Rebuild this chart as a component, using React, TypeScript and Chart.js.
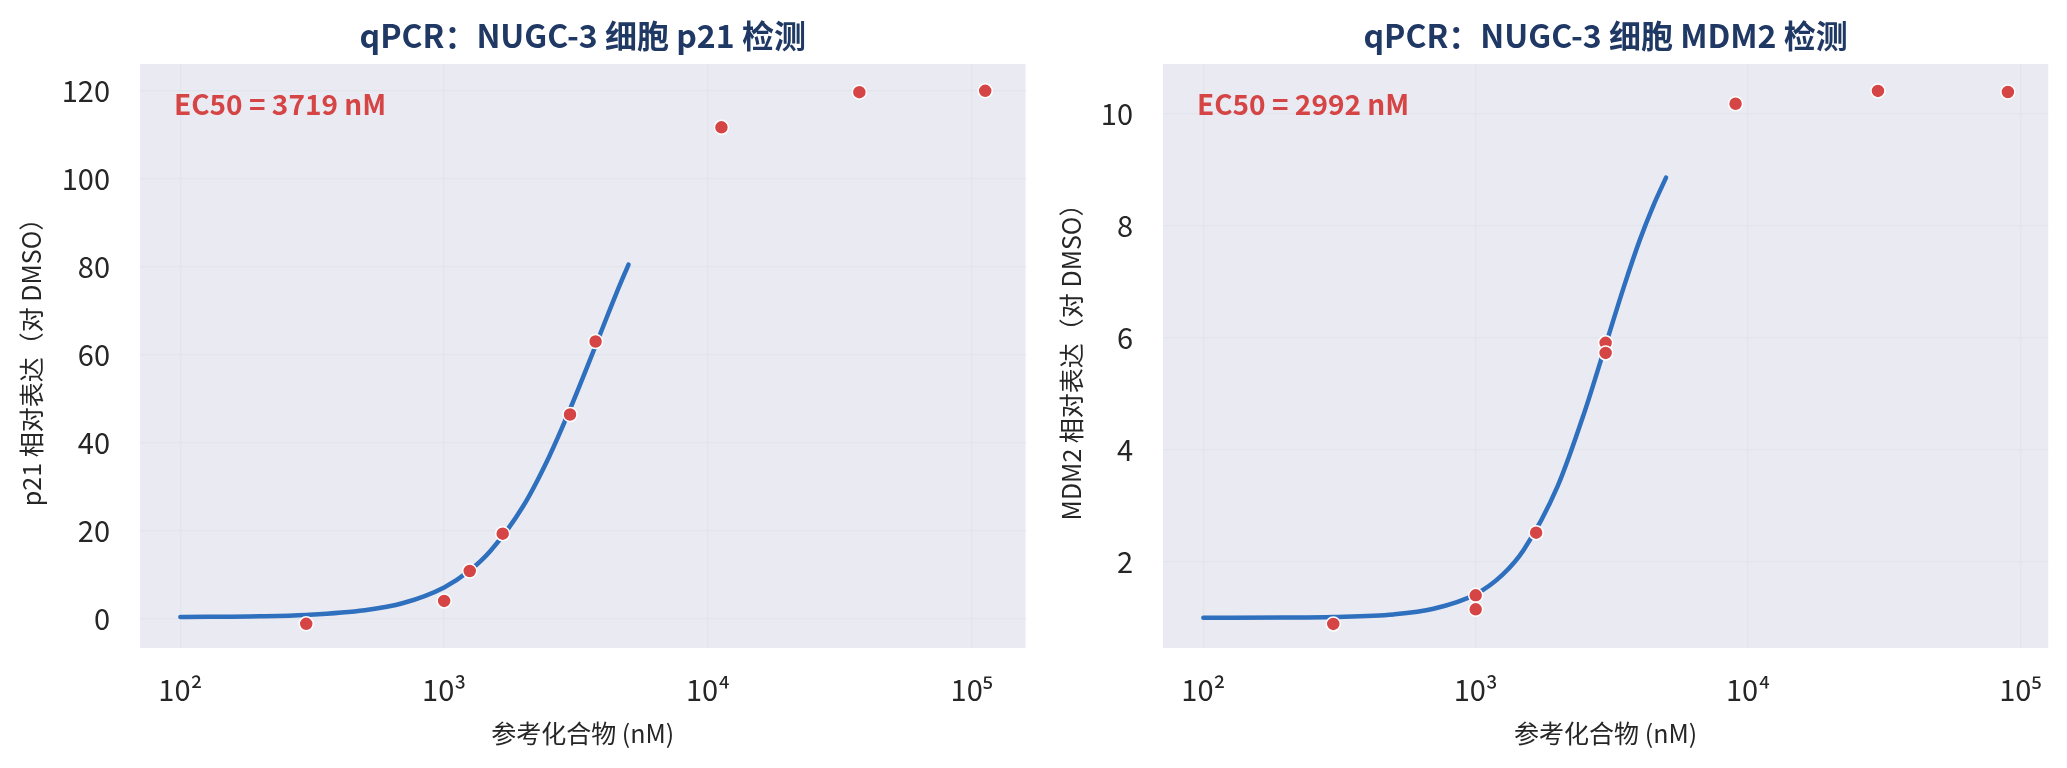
import { useEffect, useRef } from 'react'
import { Chart, registerables } from 'chart.js'
Chart.register(...registerables)

// p21 panel
const P21_DOSE = [300, 1000, 1250, 1667, 3000, 3750, 11250, 37500, 112500]
const P21_EXPR = [-1.2, 4.0, 10.8, 19.3, 46.4, 63.0, 111.7, 119.7, 120.0]
const P21_FIT_DOSE = [100, 200, 300, 500, 700, 1000, 1250, 1500, 2000, 2500, 3000, 3500, 4000, 4500, 5000]
const P21_FIT = [0.35, 0.52, 0.83, 1.88, 3.53, 7.08, 10.9, 15.4, 25.7, 36.8, 47.6, 57.5, 66.3, 74.0, 80.5]
const P21_Y_TICKS = [0, 20, 40, 60, 80, 100, 120]

// MDM2 panel
const MDM2_DOSE = [300, 1000, 1000, 1667, 3000, 3000, 9000, 30000, 90000]
const MDM2_EXPR = [0.89, 1.40, 1.15, 2.52, 5.91, 5.73, 10.18, 10.41, 10.39]
const MDM2_FIT_DOSE = [100, 200, 300, 500, 700, 1000, 1250, 1500, 2000, 2500, 3000, 3500, 4000, 4500, 5000]
const MDM2_FIT = [1.0, 1.005, 1.015, 1.06, 1.16, 1.42, 1.76, 2.21, 3.35, 4.65, 5.87, 6.91, 7.74, 8.37, 8.86]
const MDM2_Y_TICKS = [2, 4, 6, 8, 10]

const X_TICKS = [100, 1000, 10000, 100000]
const X_TICK_LABELS = ['10²', '10³', '10⁴', '10⁵']

const FONT = "'Noto Sans CJK SC', 'Noto Sans', 'DejaVu Sans', sans-serif"
const BG = '#EAEAF2', GRID = '#E3E5ED', TXT = '#262626'
const BLUE = '#2E6FBE', RED = '#D64545', NAVY = '#1F3864'

const decor = {
  id: 'decor',
  beforeDraw(chart: any) {
    const { ctx, chartArea: a } = chart
    ctx.save(); ctx.fillStyle = BG
    ctx.fillRect(a.left, a.top, a.right - a.left, a.bottom - a.top)
    ctx.restore()
  },
  afterDraw(chart: any, _args: any, o: any) {
    const { ctx, chartArea: a } = chart
    ctx.save()
    ctx.textBaseline = 'alphabetic'
    ctx.fillStyle = NAVY; ctx.textAlign = 'center'
    ctx.font = `bold 32px ${FONT}`
    ctx.fillText(o.title, (a.left + a.right) / 2, 48)
    ctx.fillStyle = RED; ctx.textAlign = 'left'
    ctx.font = `bold 28px ${FONT}`
    ctx.fillText(o.ec50, a.left + 34, 115)
    ctx.restore()
  }
}

function makeConfig(p: any): any {
  return {
    type: 'scatter',
    data: {
      datasets: [
        { type: 'line', order: 2, data: p.fitDose.map((x: number, i: number) => ({ x, y: p.fit[i] })),
          borderColor: BLUE, borderWidth: 4.5, pointRadius: 0, fill: false, cubicInterpolationMode: 'monotone', borderCapStyle: 'round' },
        { type: 'scatter', order: 1, data: p.dose.map((x: number, i: number) => ({ x, y: p.expr[i] })),
          backgroundColor: RED, borderColor: '#ffffff', borderWidth: 1.5, pointRadius: 7 },
      ]
    },
    options: {
      responsive: false, animation: false,
      layout: { padding: { top: 64, right: p.padRight, bottom: 0, left: 0 } },
      plugins: { legend: { display: false }, tooltip: { enabled: false }, title: { display: false },
        decor: { title: p.title, ec50: p.ec50 } },
      scales: {
        x: { type: 'logarithmic', min: p.xMin, max: p.xMax,
          afterFit: (s: any) => { s.height = 120 },
          afterBuildTicks: (s: any) => { s.ticks = X_TICKS.map(v => ({ value: v })) },
          grid: { color: GRID, lineWidth: 1.5, drawTicks: false }, border: { display: false },
          ticks: { autoSkip: false, maxRotation: 0, padding: 25, color: TXT, font: { family: FONT, size: 29 },
            callback: (v: any) => X_TICK_LABELS[X_TICKS.indexOf(Number(v))] },
          title: { display: true, text: '参考化合物 (nM)', color: TXT, font: { family: FONT, size: 25 }, padding: { top: 0, bottom: 20 } } },
        y: { type: 'linear', min: p.yMin, max: p.yMax,
          afterFit: (s: any) => { s.width = p.axisWidth },
          afterBuildTicks: (s: any) => { s.ticks = p.yTicks.map((v: number) => ({ value: v })) },
          grid: { color: GRID, lineWidth: 1.5, drawTicks: false }, border: { display: false },
          ticks: { padding: 30, color: TXT, font: { family: FONT, size: 29 } },
          title: { display: true, text: p.yLabel, color: TXT, font: { family: FONT, size: 25 }, padding: { top: p.yTitlePad, bottom: 0 } } }
      }
    },
    plugins: [decor]
  }
}

const PANELS = [
  { title: 'qPCR：NUGC-3 细胞 p21 检测', yLabel: 'p21 相对表达（对 DMSO）', ec50: 'EC50 = 3719 nM',
    dose: P21_DOSE, expr: P21_EXPR, fitDose: P21_FIT_DOSE, fit: P21_FIT, yTicks: P21_Y_TICKS,
    yMin: -6.7, yMax: 126.1, xMin: 70.3, xMax: 159900, axisWidth: 140, padRight: 7, yTitlePad: 16, left: 0, width: 1034 },
  { title: 'qPCR：NUGC-3 细胞 MDM2 检测', yLabel: 'MDM2 相对表达（对 DMSO）', ec50: 'EC50 = 2992 nM',
    dose: MDM2_DOSE, expr: MDM2_EXPR, fitDose: MDM2_FIT_DOSE, fit: MDM2_FIT, yTicks: MDM2_Y_TICKS,
    yMin: 0.46, yMax: 10.89, xMin: 71.1, xMax: 126600, axisWidth: 129, padRight: 15, yTitlePad: 22, left: 1034, width: 1033 },
]

export default function App() {
  const refs = [useRef<HTMLCanvasElement>(null), useRef<HTMLCanvasElement>(null)]
  const charts = useRef<Chart[]>([])

  useEffect(() => {
    charts.current.forEach(c => c.destroy())
    charts.current = []
    PANELS.forEach((p, i) => {
      const el = refs[i].current
      if (el) charts.current.push(new Chart(el, makeConfig(p)))
    })
    return () => { charts.current.forEach(c => c.destroy()); charts.current = [] }
  }, [])

  return (
    <div style={{ position: 'absolute', left: 0, top: 0, width: 2067, height: 768, background: '#fff' }}>
      {PANELS.map((p, i) => (
        <canvas key={i} ref={refs[i]} width={p.width} height={768}
          style={{ position: 'absolute', left: p.left, top: 0, display: 'block' }} />
      ))}
    </div>
  )
}
